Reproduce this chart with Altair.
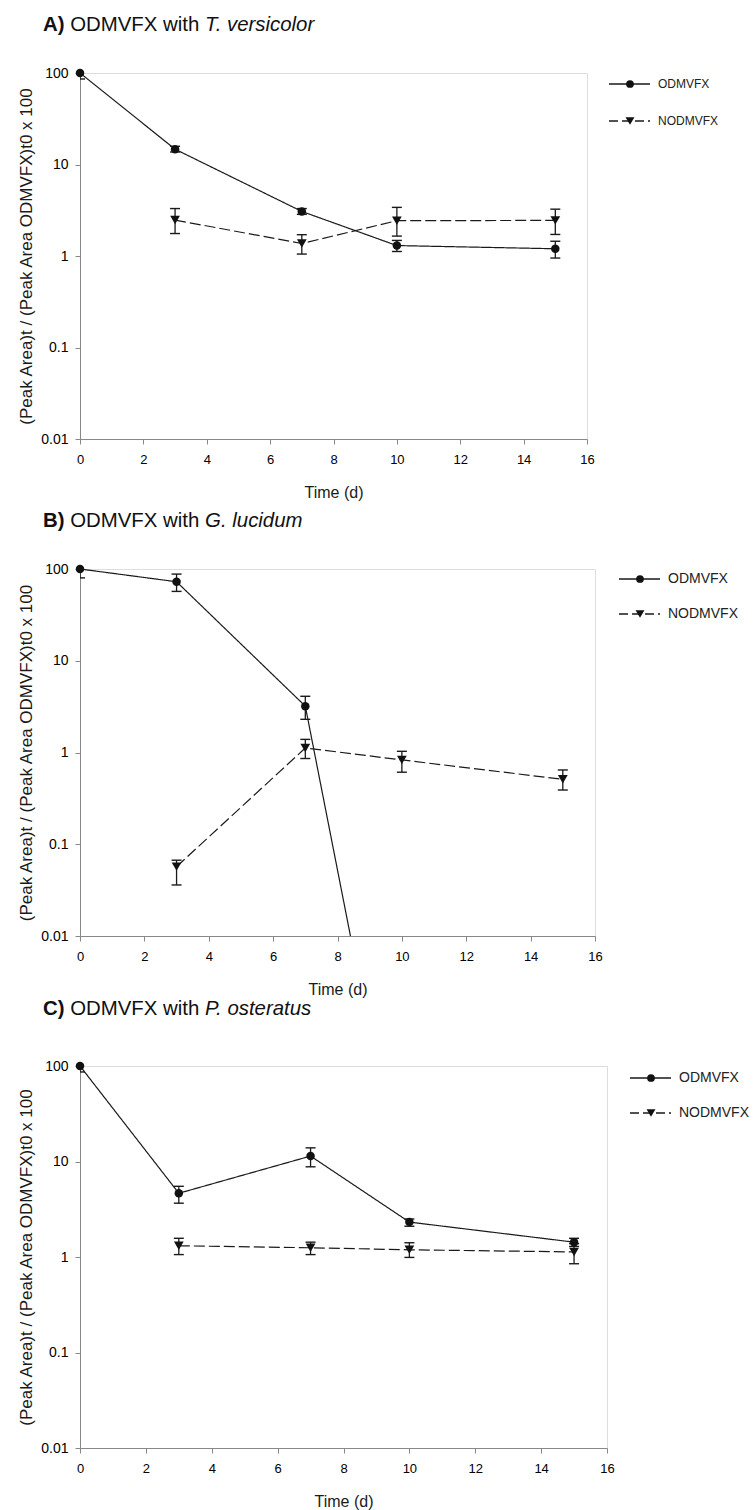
import altair as alt
import pandas as pd

FONT = "Liberation Sans"
INK = "#1a1a1a"

# ---------------- data ----------------
series_names = ["ODMVFX", "NODMVFX"]
x_ticks = [0, 2, 4, 6, 8, 10, 12, 14, 16]
y_ticks = [0.01, 0.1, 1, 10, 100]

# Panel A  - T. versicolor
a_odm_days = [0, 3, 7, 10, 15]
a_odm = [100, 14.7, 3.07, 1.30, 1.20]
a_odm_lo = [86, 13.7, 2.85, 1.12, 0.95]
a_odm_hi = [114, 15.8, 3.30, 1.48, 1.45]
a_nod_days = [3, 7, 10, 15]
a_nod = [2.47, 1.37, 2.43, 2.45]
a_nod_lo = [1.76, 1.05, 1.65, 1.72]
a_nod_hi = [3.30, 1.71, 3.40, 3.25]

# Panel B  - G. lucidum
b_odm_days = [0, 3, 7, 10]
b_odm = [100, 72.6, 3.2, 0.000014]
b_odm_lo = [80, 57, 2.3, None]
b_odm_hi = [120, 88, 4.1, None]
b_nod_days = [3, 7, 10, 15]
b_nod = [0.057, 1.12, 0.83, 0.51]
b_nod_lo = [0.036, 0.86, 0.61, 0.39]
b_nod_hi = [0.067, 1.39, 1.03, 0.645]

# Panel C  - P. osteratus
c_odm_days = [0, 3, 7, 10, 15]
c_odm = [100, 4.65, 11.4, 2.32, 1.43]
c_odm_lo = [86.6, 3.66, 8.8, 2.10, 1.29]
c_odm_hi = [115, 5.5, 13.9, 2.50, 1.57]
c_nod_days = [3, 7, 10, 15]
c_nod = [1.31, 1.25, 1.19, 1.13]
c_nod_lo = [1.06, 1.06, 0.99, 0.85]
c_nod_hi = [1.57, 1.43, 1.41, 1.38]

Y_TITLE = "(Peak Area)t / (Peak Area ODMVFX)t0 x 100"

# Arial / Liberation Sans advance widths (per 1000 em) for title layout
W_REG = {" ": 278, ".": 278, "O": 778, "D": 722, "M": 833, "V": 667, "F": 611, "X": 667,
         "w": 722, "i": 222, "t": 278, "h": 556, "T": 611, "v": 500, "e": 556, "r": 333,
         "s": 500, "c": 500, "o": 556, "l": 222, "G": 778, "u": 556, "d": 556, "m": 833,
         "P": 667, "a": 556}
W_BOLD = {"A": 722, "B": 722, "C": 722, ")": 333}


def text_w(s, table, size):
    return sum(table[ch] for ch in s) * size / 1000.0


def make_df(odm_days, odm, odm_lo, odm_hi, nod_days, nod, nod_lo, nod_hi):
    rows = []
    for d, v, lo, hi in zip(odm_days, odm, odm_lo, odm_hi):
        rows.append({"day": d, "v": v, "lo": lo, "hi": hi, "series": "ODMVFX"})
    for d, v, lo, hi in zip(nod_days, nod, nod_lo, nod_hi):
        rows.append({"day": d, "v": v, "lo": lo, "hi": hi, "series": "NODMVFX"})
    return pd.DataFrame(rows)


def panel(letter, italic, df, width, height, title_dy, leg_font, leg_x, leg_y1, leg_y2,
          anchor=False):
    xscale = alt.Scale(domain=[0, 16], nice=False, zero=False)
    yscale = alt.Scale(type="log", domain=[0.01, 100], nice=False)
    xaxis = alt.Axis(values=x_ticks, title="Time (d)", titleFontSize=16, titleFont=FONT,
                     titleFontWeight="normal", titleColor=INK, titleY=58,
                     titleBaseline="alphabetic", labelFontSize=13, labelPadding=9,
                     labelFlush=False, grid=False, ticks=True, tickSize=5)
    yaxis = alt.Axis(values=y_ticks, labelExpr="format(datum.value, '~g')", title=Y_TITLE,
                     titleFontSize=17, titleFont=FONT, titleFontWeight="normal",
                     titleColor=INK, titleAngle=-90, titleX=-49, titleY=height / 2,
                     titleAlign="center", titleBaseline="alphabetic", labelFontSize=14,
                     labelPadding=7, labelFlush=False, grid=False, ticks=True, tickSize=5)
    X = alt.X("day:Q", scale=xscale, axis=xaxis)

    base = alt.Chart(df)
    dash = alt.StrokeDash("series:N", scale=alt.Scale(domain=series_names,
                                                      range=[[1, 0], [11, 4]]), legend=None)
    shape = alt.Shape("series:N", scale=alt.Scale(domain=series_names,
                                                  range=["circle", "triangle-down"]), legend=None)
    size = alt.Size("series:N", scale=alt.Scale(domain=series_names, range=[72, 95]),
                    legend=None)

    lines = base.mark_line(clip=True, color=INK, strokeWidth=1.2).encode(
        x=X, y=alt.Y("v:Q", scale=yscale, axis=yaxis), detail="series:N",
        strokeDash=dash, order=alt.Order("day:Q"))
    ebase = base.transform_filter("isValid(datum.lo) && datum.v >= 0.01")
    bars = ebase.mark_rule(clip=True, color=INK, strokeWidth=1.3).encode(
        x=X, y=alt.Y("lo:Q", scale=yscale, axis=yaxis), y2="hi:Q")
    cap_lo = ebase.mark_tick(clip=True, orient="horizontal", size=10, thickness=1.4,
                             color=INK, opacity=1).encode(
        x=X, y=alt.Y("lo:Q", scale=yscale, axis=yaxis))
    cap_hi = ebase.mark_tick(clip=True, orient="horizontal", size=10, thickness=1.4,
                             color=INK, opacity=1).encode(
        x=X, y=alt.Y("hi:Q", scale=yscale, axis=yaxis))
    pts = base.transform_filter("datum.v >= 0.01").mark_point(
        filled=True, color="#111", opacity=1).encode(
        x=X, y=alt.Y("v:Q", scale=yscale, axis=yaxis), shape=shape, size=size)

    layers = [lines, bars, cap_lo, cap_hi, pts]

    # ----- title (bold letter, plain text, italic species) -----
    fs = 20.4
    x0 = -37
    bold = f"{letter})"
    plain = "ODMVFX with"
    sp = text_w(" ", W_REG, fs)
    x1 = x0 + text_w(bold, W_BOLD, fs) + sp
    x2 = x1 + text_w(plain, W_REG, fs) + sp
    for txt, xx, weight, style in [(bold, x0, "bold", "normal"), (plain, x1, "normal", "normal"),
                                   (italic, x2, "normal", "italic")]:
        layers.append(alt.Chart(pd.DataFrame({"t": [txt]})).mark_text(
            align="left", baseline="alphabetic", font=FONT, fontSize=fs, fontWeight=weight,
            fontStyle=style, color="#111").encode(
            text="t:N", x=alt.value(xx), y=alt.value(title_dy)))

    # ----- legend -----
    for name, yy, dsh, shp, sz in [("ODMVFX", leg_y1, [1, 0], "circle", 60),
                                   ("NODMVFX", leg_y2, [9, 4], "triangle-down", 80)]:
        ldf = pd.DataFrame({"t": [name]})
        layers.append(alt.Chart(ldf).mark_rule(color=INK, strokeWidth=1.3, strokeDash=dsh).encode(
            x=alt.value(leg_x), x2=alt.value(leg_x + 41), y=alt.value(yy)))
        layers.append(alt.Chart(ldf).mark_point(shape=shp, filled=True, size=sz, color="#111",
                                                opacity=1).encode(
            x=alt.value(leg_x + 21), y=alt.value(yy)))
        layers.append(alt.Chart(ldf).mark_text(align="left", baseline="middle", font=FONT,
                                               fontSize=leg_font, color="#222").encode(
            text="t:N", x=alt.value(leg_x + 49), y=alt.value(yy)))

    if anchor:
        layers.append(alt.Chart(pd.DataFrame({"t": ["."]})).mark_text(
            align="left", baseline="top", fontSize=2, opacity=0).encode(
            text="t:N", x=alt.value(-79), y=alt.value(-72)))

    return alt.layer(*layers).properties(width=width, height=height)


df_a = make_df(a_odm_days, a_odm, a_odm_lo, a_odm_hi, a_nod_days, a_nod, a_nod_lo, a_nod_hi)
df_b = make_df(b_odm_days, b_odm, b_odm_lo, b_odm_hi, b_nod_days, b_nod, b_nod_lo, b_nod_hi)
df_c = make_df(c_odm_days, c_odm, c_odm_lo, c_odm_hi, c_nod_days, c_nod, c_nod_lo, c_nod_hi)

pa = panel("A", "T. versicolor", df_a, 507, 366, -42, 12, 529, 11, 48, anchor=True)
pb = panel("B", "G. lucidum", df_b, 515, 367, -42, 14, 539, 10, 45)
pc = panel("C", "P. osteratus", df_c, 527, 382, -51, 14, 550, 12, 47)

chart = alt.vconcat(pa, pb, pc, spacing=130, bounds="flush").properties(
    padding=0
).configure_view(
    stroke=INK, strokeWidth=1.5
).configure_axis(
    grid=False, domainColor=INK, domainWidth=1.5, tickColor=INK, tickWidth=1.3,
    tickSize=5, labelFont=FONT, labelColor="#111", titleFont=FONT
).configure(background="white")

chart.save("out.html", embed_options={"renderer": "svg", "actions": False})
